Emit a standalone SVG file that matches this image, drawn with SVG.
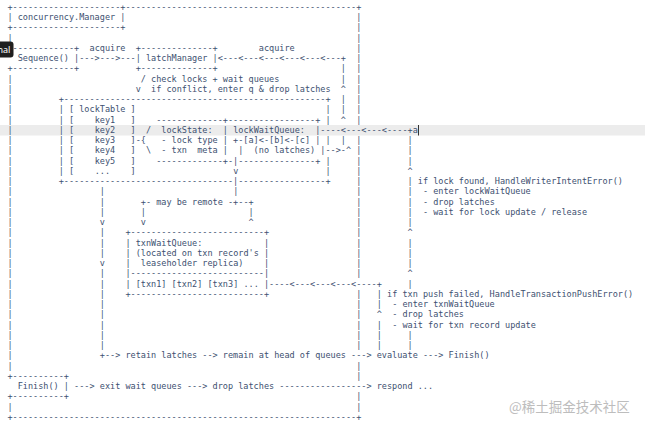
<svg xmlns="http://www.w3.org/2000/svg" width="645" height="428" viewBox="0 0 645 428">
<style>
.t{font-family:"DejaVu Sans Mono","Liberation Mono",monospace;font-size:9.4px;fill:#3d5070;white-space:pre}
</style>
<rect x="0" y="0" width="645" height="428" fill="#ffffff"/>
<rect id="line-highlight" x="0" y="125" width="645" height="10.5" fill="#ececec"/>
<g id="ascii-diagram" transform="translate(7.43 0) scale(0.9066 1)">
<text class="t" y="10"><tspan x="0">+---------------------+---------------------------------------------+</tspan></text>
<text class="t" y="20.25"><tspan x="0">| concurrency.Manager |</tspan><tspan x="384.78">|</tspan></text>
<text class="t" y="30.5"><tspan x="0">+---------------------+</tspan><tspan x="384.78">|</tspan></text>
<text class="t" y="40.75"><tspan x="0">|</tspan><tspan x="384.78">|</tspan></text>
<text class="t" y="51"><tspan x="0">+------------+</tspan><tspan x="90.54">acquire</tspan><tspan x="141.46">+--------------+</tspan><tspan x="277.27">acquire</tspan><tspan x="384.78">|</tspan></text>
<text class="t" y="61.25"><tspan x="11.32">Sequence() |---&gt;---&gt;---| latchManager |&lt;---&lt;---&lt;---&lt;---&lt;---&lt;---+</tspan><tspan x="384.78">|</tspan></text>
<text class="t" y="71.5"><tspan x="0">+------------+</tspan><tspan x="141.46">+--------------+</tspan><tspan x="367.80">|</tspan><tspan x="384.78">|</tspan></text>
<text class="t" y="81.75"><tspan x="0">|</tspan><tspan x="147.12">/ check locks + wait queues</tspan><tspan x="367.80">|</tspan><tspan x="384.78">|</tspan></text>
<text class="t" y="92"><tspan x="0">|</tspan><tspan x="141.46">v  if conflict, enter q &amp; drop latches</tspan><tspan x="367.80">^</tspan><tspan x="384.78">|</tspan></text>
<text class="t" y="102.25"><tspan x="0">|</tspan><tspan x="56.59">+---------------------------------------------------+</tspan><tspan x="367.80">|</tspan><tspan x="384.78">|</tspan></text>
<text class="t" y="112.5"><tspan x="0">|</tspan><tspan x="56.59">| [ lockTable ]</tspan><tspan x="350.83">|</tspan><tspan x="367.80">|</tspan><tspan x="384.78">|</tspan></text>
<text class="t" y="122.75"><tspan x="0">|</tspan><tspan x="56.59">| [    key1   ]</tspan><tspan x="164.10">-------------+-----------------+</tspan><tspan x="350.83">|</tspan><tspan x="367.80">^</tspan><tspan x="384.78">|</tspan></text>
<text class="t" y="133"><tspan x="0">|</tspan><tspan x="56.59">| [    key2   ]</tspan><tspan x="152.78">/  lockState:  | lockWaitQueue:  |----&lt;---&lt;---&lt;----+a</tspan></text>
<text class="t" y="143.25"><tspan x="0">|</tspan><tspan x="56.59">| [    key3   ]-{   - lock type | +-[a]&lt;-[b]&lt;-[c] |</tspan><tspan x="350.83">|</tspan><tspan x="367.80">|</tspan><tspan x="384.78">|</tspan><tspan x="441.36">|</tspan></text>
<text class="t" y="153.5"><tspan x="0">|</tspan><tspan x="56.59">| [    key4   ]  \  - txn  meta |  |  (no latches) |--&gt;-^</tspan><tspan x="384.78">|</tspan><tspan x="441.36">|</tspan></text>
<text class="t" y="163.75"><tspan x="0">|</tspan><tspan x="56.59">| [    key5   ]</tspan><tspan x="164.10">-------------+-|---------------+</tspan><tspan x="350.83">|</tspan><tspan x="384.78">|</tspan><tspan x="441.36">|</tspan></text>
<text class="t" y="174"><tspan x="0">|</tspan><tspan x="56.59">| [    ...    ]</tspan><tspan x="248.97">v</tspan><tspan x="350.83">|</tspan><tspan x="384.78">|</tspan><tspan x="441.36">^</tspan></text>
<text class="t" y="184.25"><tspan x="0">|</tspan><tspan x="56.59">+---------------------------------|-----------------+</tspan><tspan x="384.78">|</tspan><tspan x="441.36">| if lock found, HandleWriterIntentError()</tspan></text>
<text class="t" y="194.5"><tspan x="0">|</tspan><tspan x="101.85">|</tspan><tspan x="248.97">|</tspan><tspan x="384.78">|</tspan><tspan x="441.36">|  - enter lockWaitQueue</tspan></text>
<text class="t" y="204.75"><tspan x="0">|</tspan><tspan x="101.85">|</tspan><tspan x="147.12">+- may be remote -+--+</tspan><tspan x="384.78">|</tspan><tspan x="441.36">|  - drop latches</tspan></text>
<text class="t" y="215"><tspan x="0">|</tspan><tspan x="101.85">|</tspan><tspan x="147.12">|</tspan><tspan x="265.95">|</tspan><tspan x="384.78">|</tspan><tspan x="441.36">|  - wait for lock update / release</tspan></text>
<text class="t" y="225.25"><tspan x="0">|</tspan><tspan x="101.85">v</tspan><tspan x="147.12">v</tspan><tspan x="265.95">^</tspan><tspan x="384.78">|</tspan><tspan x="441.36">|</tspan></text>
<text class="t" y="235.5"><tspan x="0">|</tspan><tspan x="101.85">|</tspan><tspan x="130.15">+--------------------------+</tspan><tspan x="384.78">|</tspan><tspan x="441.36">^</tspan></text>
<text class="t" y="245.75"><tspan x="0">|</tspan><tspan x="101.85">|</tspan><tspan x="130.15">| txnWaitQueue:</tspan><tspan x="282.93">|</tspan><tspan x="384.78">|</tspan><tspan x="441.36">|</tspan></text>
<text class="t" y="256"><tspan x="0">|</tspan><tspan x="101.85">|</tspan><tspan x="130.15">| (located on txn record's |</tspan><tspan x="384.78">|</tspan><tspan x="441.36">|</tspan></text>
<text class="t" y="266.25"><tspan x="0">|</tspan><tspan x="101.85">v</tspan><tspan x="130.15">|  leaseholder replica)</tspan><tspan x="282.93">|</tspan><tspan x="384.78">|</tspan><tspan x="441.36">|</tspan></text>
<text class="t" y="276.5"><tspan x="0">|</tspan><tspan x="101.85">|</tspan><tspan x="130.15">|--------------------------|</tspan><tspan x="384.78">|</tspan><tspan x="441.36">^</tspan></text>
<text class="t" y="286.75"><tspan x="0">|</tspan><tspan x="101.85">|</tspan><tspan x="130.15">| [txn1] [txn2] [txn3] ... |----&lt;---&lt;---&lt;---&lt;----+</tspan><tspan x="441.36">|</tspan></text>
<text class="t" y="297"><tspan x="0">|</tspan><tspan x="101.85">|</tspan><tspan x="130.15">+--------------------------+</tspan><tspan x="384.78">|</tspan><tspan x="407.41">| if txn push failed, HandleTransactionPushError()</tspan></text>
<text class="t" y="307.25"><tspan x="0">|</tspan><tspan x="101.85">|</tspan><tspan x="384.78">|</tspan><tspan x="407.41">|  - enter txnWaitQueue</tspan></text>
<text class="t" y="317.5"><tspan x="0">|</tspan><tspan x="101.85">|</tspan><tspan x="384.78">|</tspan><tspan x="407.41">^  - drop latches</tspan></text>
<text class="t" y="327.75"><tspan x="0">|</tspan><tspan x="101.85">|</tspan><tspan x="384.78">|</tspan><tspan x="407.41">|  - wait for txn record update</tspan></text>
<text class="t" y="338"><tspan x="0">|</tspan><tspan x="101.85">|</tspan><tspan x="384.78">|</tspan><tspan x="407.41">|</tspan><tspan x="441.36">|</tspan></text>
<text class="t" y="348.25"><tspan x="0">|</tspan><tspan x="101.85">|</tspan><tspan x="384.78">|</tspan><tspan x="407.41">|</tspan><tspan x="441.36">|</tspan></text>
<text class="t" y="358.5"><tspan x="0">|</tspan><tspan x="101.85">+--&gt; retain latches --&gt; remain at head of queues ---&gt; evaluate ---&gt; Finish()</tspan></text>
<text class="t" y="368.75"><tspan x="0">|</tspan><tspan x="384.78">|</tspan></text>
<text class="t" y="379"><tspan x="0">+----------+</tspan><tspan x="384.78">|</tspan></text>
<text class="t" y="389.25"><tspan x="11.32">Finish() | ---&gt; exit wait queues ---&gt; drop latches -----------------&gt; respond ...</tspan></text>
<text class="t" y="399.5"><tspan x="0">+----------+</tspan><tspan x="384.78">|</tspan></text>
<text class="t" y="409.75"><tspan x="0">|</tspan><tspan x="384.78">|</tspan></text>
<text class="t" y="420"><tspan x="0">+-------------------------------------------------------------------+</tspan></text>
</g>
<line id="cursor" x1="418.5" y1="125" x2="418.5" y2="135.5" stroke="#333333" stroke-width="1"/>
<g id="tooltip">
<rect x="-4" y="41.5" width="17.5" height="16" rx="3" fill="#1f1f1f"/>
<text x="-2.5" y="53" font-family="'Noto Sans', 'Liberation Sans', sans-serif" font-size="9" fill="#ffffff">nal</text>
</g>
<text id="watermark" x="509" y="411.5" font-family="'Noto Sans CJK SC', sans-serif" font-size="13.5" fill="#bdbdbd">@稀土掘金技术社区</text>
</svg>
